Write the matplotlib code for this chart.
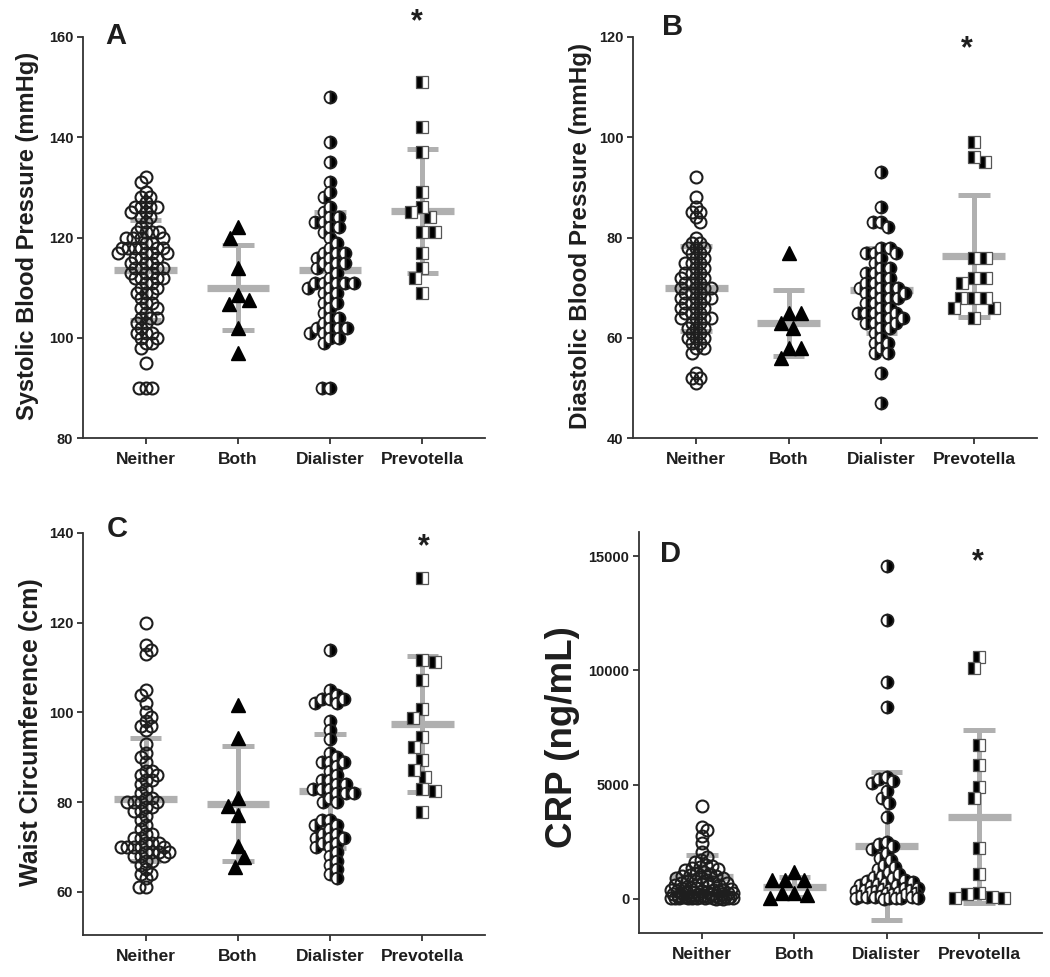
import numpy as np
import matplotlib
matplotlib.use('Agg')
import matplotlib.pyplot as plt

plt.rcParams['font.family'] = ['Liberation Sans', 'DejaVu Sans']
plt.rcParams['font.weight'] = 'bold'

W, H = 1050, 977
groups = ['Neither', 'Both', 'Dialister', 'Prevotella']

# ---- data ----
sbp_neither = [132, 131, 129, 128, 128, 127, 126, 126, 126, 126, 125, 125, 124, 124, 123, 122,
               121, 121, 121, 121, 120, 120, 120, 120, 119, 119, 118, 118, 118, 118, 118, 118,
               117, 117, 117, 117, 116, 116, 116, 115, 115, 115, 114, 114, 114, 114, 113, 113,
               113, 112, 112, 112, 112, 111, 111, 110, 110, 109, 109, 109, 108, 107, 107, 106,
               106, 105, 104, 104, 104, 103, 103, 102, 101, 101, 101, 100, 100, 99, 99, 98, 95,
               90, 90, 90]
sbp_both = [122, 120, 114, 108.5, 107.5, 106.7, 102, 97]
sbp_dial = [148, 139, 135, 131, 129, 128, 126, 125, 124, 124, 123, 123, 122, 122, 121, 120,
            119, 118, 117, 117, 117, 116, 116, 115, 115, 115, 114, 114, 113, 112, 111, 111,
            111, 111, 111, 110, 110, 109, 109, 108, 107, 107, 106, 105, 104, 104, 103, 102,
            102, 102, 102, 101, 101, 100, 100, 99, 90, 90]
sbp_prev = [151, 142, 137, 129, 126, 125, 124, 121, 121, 117, 114, 112, 109]
sbp_mean = [113.5, 110.0, 113.5, 125.3]
sbp_sd = [10.0, 8.5, 11.6, 12.3]

dbp_neither = [92, 88, 86, 85, 85, 84, 83, 80, 79, 79, 78, 78, 78, 77, 77, 76, 76, 75, 75, 75,
               74, 74, 73, 73, 73, 72, 72, 72, 71, 71, 71, 70, 70, 70, 70, 69, 69, 69, 68, 68,
               68, 68, 67, 67, 67, 66, 66, 66, 65, 65, 65, 64, 64, 64, 64, 63, 63, 62, 62, 62,
               61, 61, 60, 60, 60, 59, 59, 58, 58, 57, 53, 52, 52, 51]
dbp_both = [77, 65, 65, 63, 62, 58, 58, 56]
dbp_dial = [93, 86, 83, 83, 82, 78, 78, 77, 77, 77, 76, 75, 74, 74, 73, 73, 72, 72, 71, 71,
            70, 70, 70, 70, 69, 69, 69, 68, 68, 68, 67, 67, 66, 66, 65, 65, 65, 65, 64, 64,
            64, 63, 63, 63, 62, 62, 61, 60, 59, 59, 58, 57, 57, 53, 47]
dbp_prev = [99, 96, 95, 76, 76, 72, 72, 71, 68, 68, 68, 66, 66, 64]
dbp_mean = [69.9, 63.0, 69.5, 76.3]
dbp_sd = [8.5, 6.6, 8.5, 12.1]

waist_neither = [120, 115, 114, 113, 105, 104, 102, 100, 99, 98, 97, 97, 96, 93, 91, 90, 89,
                 87, 87, 86, 86, 85, 85, 84, 83, 82, 81, 81, 80, 80, 80, 80, 79, 79, 78, 78,
                 77, 76, 75, 74, 73, 73, 72, 72, 71, 71, 71, 70, 70, 70, 70, 70, 69, 69, 69,
                 69, 68, 68, 68, 67, 67, 66, 65, 64, 64, 63, 61, 61]
waist_both = [101.7, 94.2, 81, 79.2, 77.1, 70.2, 67.7, 65.6]
waist_dial = [114, 105, 104, 103, 103, 103, 102, 102, 98, 96, 94, 91, 90, 89, 89, 89, 88, 87,
              86, 85, 85, 84, 84, 83, 83, 83, 82, 82, 82, 81, 80, 80, 76, 76, 75, 75, 74, 73,
              73, 72, 72, 72, 71, 71, 70, 70, 69, 68, 67, 66, 65, 64, 63]
waist_prev = [130, 111.3, 111.6, 107.2, 100.7, 98.7, 94.5, 92.4, 89.4, 87.2, 85.7, 82.9, 82.5, 77.9]
waist_mean = [80.7, 79.7, 82.5, 97.4]
waist_sd = [13.7, 12.8, 12.6, 15.1]

crp_neither = [4050, 3150, 3000, 2750, 2450, 2050, 1850, 1700, 1600, 1500, 1450, 1400, 1350,
               1300, 1250, 1200, 1150, 1100, 1050, 1000, 1000, 950, 900, 900, 850, 800, 800,
               750, 700, 700, 650, 600, 600, 550, 500, 500, 450, 450, 400, 400, 400, 350, 350,
               350, 300, 300, 300, 250, 250, 250, 200, 200, 200, 200, 150, 150, 150, 150, 100,
               100, 100, 100, 100, 80, 80, 60, 60, 50, 50, 50, 40, 40, 30, 30, 20, 20, 10, 10]
crp_both = [1190, 830, 830, 830, 250, 250, 175, 40]
crp_dial = [14550, 12200, 9500, 8400, 5350, 5250, 5150, 5050, 4700, 4400, 4200, 3600, 2500,
            2400, 2300, 2200, 2000, 1800, 1700, 1500, 1400, 1300, 1200, 1100, 1000, 950, 900,
            850, 800, 750, 700, 650, 600, 600, 550, 500, 500, 450, 450, 400, 400, 350, 350,
            300, 300, 250, 250, 200, 200, 150, 150, 100, 100, 80, 60, 50, 40, 30, 20, 10]
crp_prev = [10600, 10100, 6735, 5860, 4912, 4402, 2216, 1093, 250, 220, 100, 30, 30]
crp_mean = [950, 540, 2320, 3600]
crp_sd = [975, 440, 3220, 3790]

GRAY = '#b0b0b0'
INK = '#1e1e1e'


def swarm(vals, ax, diam=10.0, max_half=33.0):
    # simple beeswarm in pixel space, returns x offsets in data units
    y0, y1 = ax.get_ylim()
    x0, x1 = ax.get_xlim()
    bb = ax.get_position()
    ppy = bb.height * H / (y1 - y0)
    ppx = bb.width * W / (x1 - x0)
    ypx = np.asarray(vals, float) * ppy
    cands = np.linspace(-max_half, max_half, 133)
    order = np.argsort(-ypx, kind='stable')
    px, py = [], []
    xs = np.zeros(len(vals))
    flip = 1
    for k in order:
        y = ypx[k]
        if px:
            d = np.sqrt((cands[:, None] - np.array(px)[None, :]) ** 2 +
                        (y - np.array(py)[None, :]) ** 2).min(1)
            ok = d >= diam
            if ok.any():
                c = cands[ok]
                x = c[np.argmin(np.abs(c) + 1e-3 * flip * np.sign(c))]
                flip = -flip
            else:
                x = cands[np.argmax(d)]
        else:
            x = 0.0
        px.append(x)
        py.append(y)
        xs[k] = x / ppx
    return xs


def panel(rect, data, means, sds, ylim, yticks, ytlabels):
    ax = fig.add_axes(rect)
    ax.set_xlim(-0.68, 3.68)
    ax.set_ylim(*ylim)
    for s in ['top', 'right']:
        ax.spines[s].set_visible(False)
    for s in ['left', 'bottom']:
        ax.spines[s].set_linewidth(1.3)
        ax.spines[s].set_color('#333333')
    ax.set_yticks(yticks)
    ax.set_yticklabels(ytlabels, fontsize=10.5, fontweight='bold', color=INK)
    ax.set_xticks(range(4))
    ax.set_xticklabels(groups, fontsize=12.5, fontweight='bold', color=INK)
    ax.tick_params(direction='out', length=4, width=1.3, color='#333333', pad=3)
    ax.tick_params(axis='x', pad=6)

    for i, (m, s) in enumerate(zip(means, sds)):
        ax.plot([i, i], [m - s, m + s], color=GRAY, lw=3.6, solid_capstyle='butt', zorder=1)
        ax.plot([i - 0.17, i + 0.17], [m + s, m + s], color=GRAY, lw=3.6, solid_capstyle='butt', zorder=1)
        ax.plot([i - 0.17, i + 0.17], [m - s, m - s], color=GRAY, lw=3.6, solid_capstyle='butt', zorder=1)
        ax.plot([i - 0.34, i + 0.34], [m, m], color=GRAY, lw=5.2, solid_capstyle='butt', zorder=1)

    nei, both, dial, prev = data
    x = swarm(nei, ax, diam=6.5, max_half=31)
    ax.plot(0 + x, nei, 'o', ms=8.6, mfc='none', mec=INK, mew=1.5, zorder=3)
    x = swarm(both, ax, diam=12.5)
    ax.plot(1 + x, both, '^', ms=9.5, color='black', mec='black', zorder=3)
    x = swarm(dial, ax, diam=8.0, max_half=31)
    ax.plot(2 + x, dial, 'o', ms=8.6, fillstyle='right', mfc='black', mfcalt='white',
            mec=INK, mew=1.3, zorder=3)
    x = swarm(prev, ax, diam=12.5)
    ax.plot(3 + x, prev, 's', ms=8.6, fillstyle='left', mfc='black', mfcalt='white',
            mec='#555555', mew=0.9, zorder=3)
    return ax


def fx(x, y):
    return x / W, 1 - y / H


fig = plt.figure(figsize=(W / 100, H / 100), dpi=100)

panel([83 / W, (H - 438) / H, 402 / W, 401 / H],
      [sbp_neither, sbp_both, sbp_dial, sbp_prev], sbp_mean, sbp_sd,
      (80, 160), [80, 100, 120, 140, 160], ['80', '100', '120', '140', '160'])
panel([633 / W, (H - 438) / H, 404 / W, 401 / H],
      [dbp_neither, dbp_both, dbp_dial, dbp_prev], dbp_mean, dbp_sd,
      (40, 120), [40, 60, 80, 100, 120], ['40', '60', '80', '100', '120'])
panel([83 / W, (H - 935) / H, 402 / W, 402 / H],
      [waist_neither, waist_both, waist_dial, waist_prev], waist_mean, waist_sd,
      (50.4, 140), [60, 80, 100, 120, 140], ['60', '80', '100', '120', '140'])
panel([639 / W, (H - 933) / H, 403 / W, 401 / H],
      [crp_neither, crp_both, crp_dial, crp_prev], crp_mean, crp_sd,
      (-1490, 16050), [0, 5000, 10000, 15000], ['0', '5000', '10000', '15000'])

# y labels
fig.text(*fx(28, 236), 'Systolic Blood Pressure (mmHg)', rotation=90, ha='center', va='center',
         fontsize=17, fontweight='bold', color=INK)
fig.text(*fx(581, 236), 'Diastolic Blood Pressure (mmHg)', rotation=90, ha='center', va='center',
         fontsize=17.5, fontweight='bold', color=INK)
fig.text(*fx(31, 732), 'Waist Circumference (cm)', rotation=90, ha='center', va='center',
         fontsize=18, fontweight='bold', color=INK)
fig.text(*fx(563, 737), 'CRP (ng/mL)', rotation=90, ha='center', va='center',
         fontsize=26.5, fontweight='bold', color=INK)

# panel letters
for lab, xx, yy in [('A', 105, 44), ('B', 662, 35), ('C', 107, 537), ('D', 660, 562)]:
    fig.text(*fx(xx, yy), lab, ha='left', va='baseline', fontsize=21, fontweight='bold', color=INK)

# significance stars
for xx, yy in [(417, 30), (967, 57), (424, 555), (978, 570)]:
    fig.text(*fx(xx, yy), '*', ha='center', va='baseline', fontsize=22, fontweight='bold', color=INK)

fig.savefig('out.png', dpi=100)
